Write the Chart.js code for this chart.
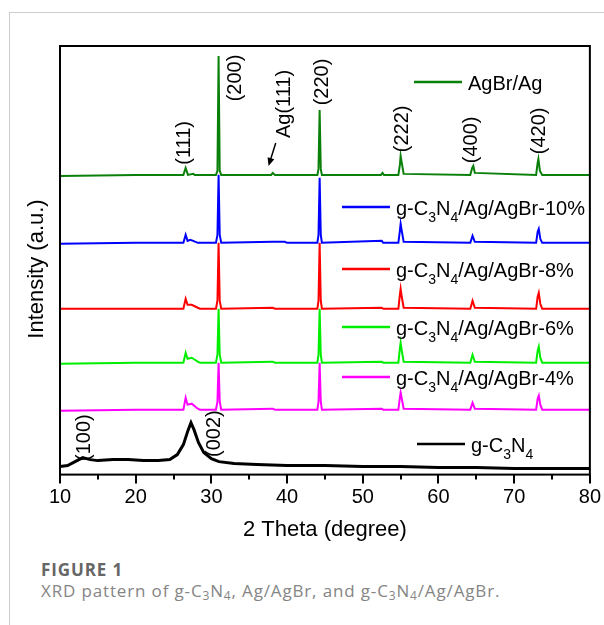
<!DOCTYPE html>
<html>
<head>
<meta charset="utf-8">
<script src="https://cdn.jsdelivr.net/npm/chart.js@4.4.0/dist/chart.umd.min.js"></script>
<style>
    body { margin: 0; background: #fff; }
    .card { position: absolute; left: 9px; top: 12px; width: 600px; height: 620px; border-left: 1px solid #cdcdcd; border-top: 1px solid #cdcdcd; }
    #xrd { position: absolute; left: 0; top: 0; }
    .fig-title { position: absolute; left: 41px; top: 558px; font: bold 17px "Open Sans", sans-serif; letter-spacing: 0.9px; color: #666; }
    .fig-text { position: absolute; left: 41px; top: 579px; font: 17px "Open Sans", sans-serif; letter-spacing: 0.85px; color: #858585; }
    .fig-text sub { font-size: 12px; vertical-align: -3px; line-height: 0; }
</style>
</head>
<body>
<div class="card"></div>
<canvas id="xrd" width="604" height="548"></canvas>
<div class="fig-title">FIGURE 1</div>
<div class="fig-text">XRD pattern of g-C<sub>3</sub>N<sub>4</sub>, Ag/AgBr, and g-C<sub>3</sub>N<sub>4</sub>/Ag/AgBr.</div>
<script>
// 2θ in degrees, intensity in a.u. (stacked traces)
const seriesNames = ["AgBr/Ag", "g-C3N4/Ag/AgBr-10%", "g-C3N4/Ag/AgBr-8%", "g-C3N4/Ag/AgBr-6%", "g-C3N4/Ag/AgBr-4%", "g-C3N4"];
const seriesColors = ["#0a800a", "#0000ff", "#ff0000", "#00ee00", "#ff00ff", "#000000"];

const agbrAg = [[10,299],[20,300],[26.3,300],[26.6,307],[26.9,300],[27.6,301],[27.8,300],[30.6,300],[30.8,304],[30.95,419],[31.1,304],[31.3,300],[37.9,300],[38.1,302],[38.4,300],[44.0,300],[44.15,306],[44.3,365],[44.45,306],[44.6,300],[52.4,300],[52.6,302],[52.8,300],[54.7,300],[54.9,310],[55.0,319],[55.15,312],[55.4,301],[64.2,300],[64.45,307],[64.6,309],[64.8,302],[72.9,300],[73.1,312],[73.2,316],[73.4,304],[73.7,300],[80,300]];
const cn10 = [[10,231],[20,232],[26.3,232],[26.6,240],[26.85,234],[27.2,235],[27.6,234],[28.2,232],[30.6,232],[30.8,240],[30.95,300],[31.1,240],[31.3,232],[38.1,233],[39.7,233],[40,232],[44.0,232],[44.15,240],[44.3,297],[44.45,240],[44.6,232],[52.5,234],[52.7,232],[54.7,232],[54.9,244],[55.0,251],[55.15,244],[55.4,233],[64.2,232],[64.5,239],[64.8,233],[72.9,232],[73.1,243],[73.25,246],[73.45,236],[73.7,232],[80,232]];
const cn8 = [[10,166],[20,166],[26.3,166],[26.6,176],[26.85,170],[27.4,170],[28.2,167],[28.5,166],[30.6,166],[30.8,174],[30.95,232],[31.1,174],[31.3,166],[38.1,167],[38.4,166],[44.0,166],[44.15,174],[44.3,232],[44.45,174],[44.6,166],[52.5,167],[52.7,166],[54.7,166],[54.9,180],[55.0,186],[55.15,178],[55.4,167],[64.2,166],[64.5,174],[64.8,167],[72.9,166],[73.1,178],[73.25,182],[73.45,171],[73.7,166],[80,166]];
const cn6 = [[10,111],[20,112],[26.3,112],[26.6,122],[26.85,116],[27.4,117],[28.2,113],[28.5,112],[30.6,112],[30.8,120],[30.95,166],[31.1,120],[31.3,112],[38.1,113],[38.4,112],[44.0,112],[44.15,120],[44.3,166],[44.45,120],[44.6,112],[52.5,113],[52.7,112],[54.7,112],[54.9,126],[55.0,132],[55.15,124],[55.4,113],[64.2,112],[64.5,120],[64.8,113],[72.9,112],[73.1,124],[73.25,128],[73.45,117],[73.7,112],[80,112]];
const cn4 = [[10,64],[20,65],[26.3,65],[26.6,77],[26.85,70],[27.4,71],[28.2,66],[28.5,65],[30.6,65],[30.8,73],[30.95,112],[31.1,73],[31.3,65],[38.1,66],[38.4,65],[44.0,65],[44.15,73],[44.3,112],[44.45,73],[44.6,65],[52.5,66],[52.7,65],[54.7,65],[54.9,77],[55.0,82],[55.15,76],[55.4,66],[64.2,65],[64.5,72],[64.8,66],[72.9,65],[73.1,76],[73.25,79],[73.45,70],[73.7,65],[80,65]];
const gcn = [[10,8],[11,9],[12,13],[13,17],[14,15],[15,14],[17,15],[19,15],[21,14],[23,14],[24.5,15],[25.5,20],[26.3,30],[26.9,44],[27.3,52],[27.7,45],[28.3,32],[29,22],[30,16],[31,13],[33,11],[36,10],[40,9],[45,9],[50,8],[55,8],[60,7],[65,7],[70,6],[75,6],[80,6]];

const xTicks = [10, 15, 20, 25, 30, 35, 40, 45, 50, 55, 60, 65, 70, 75, 80];

// peak labels: [2θ, intensity at label centre, text]
const peakLabels = [[26.5, 332, "(111)"], [33.2, 397, "(200)"], [39.7, 371, "Ag(111)"], [44.7, 393, "(220)"], [55.2, 346, "(222)"], [64.4, 335, "(400)"], [73.4, 344, "(420)"], [13.3, 37, "(100)"], [30.4, 41, "(002)"]];

const FONT = '"Liberation Sans", Arial, sans-serif';

const drawLabel = (ctx, text, x, y, size) => {
    // digits after C / N are subscripts
    const parts = text.split(/(?<=[CN])(\d)/);
    ctx.textBaseline = "middle";
    ctx.textAlign = "left";
    parts.forEach((part, i) => {
        if (!part) return;
        const sub = i % 2 === 1;
        ctx.font = `${sub ? Math.round(size * 0.7) : size}px ${FONT}`;
        ctx.fillText(part, x, sub ? y + 9 : y);
        x += ctx.measureText(part).width;
    });
};

const decorations = {
    id: "decorations",
    afterDraw(chart) {
        const { ctx, chartArea: a, scales: { x, y } } = chart;
        ctx.save();
        ctx.strokeStyle = "#000";
        ctx.fillStyle = "#000";
        ctx.lineWidth = 2;
        ctx.strokeRect(a.left, a.top, a.right - a.left, a.bottom - a.top);

        x.ticks.forEach((t) => {
            const px = Math.round(x.getPixelForValue(t.value));
            ctx.beginPath();
            ctx.moveTo(px, a.bottom);
            ctx.lineTo(px, a.bottom + (t.value % 10 === 0 ? 9 : 5));
            ctx.stroke();
        });

        // y title
        ctx.save();
        ctx.translate(37, 269);
        ctx.rotate(-Math.PI / 2);
        ctx.font = `22px ${FONT}`;
        ctx.textAlign = "center";
        ctx.textBaseline = "middle";
        ctx.fillText("Intensity (a.u.)", 0, 0);
        ctx.restore();

        // peak indices
        ctx.font = `20px ${FONT}`;
        peakLabels.forEach(([deg, val, text]) => {
            ctx.save();
            ctx.translate(x.getPixelForValue(deg), y.getPixelForValue(val));
            ctx.rotate(-Math.PI / 2);
            ctx.textAlign = "center";
            ctx.textBaseline = "middle";
            ctx.fillText(text, 0, 0);
            ctx.restore();
        });

        // Ag(111) arrow
        const x1 = x.getPixelForValue(38.5), y1 = y.getPixelForValue(332);
        const x2 = x.getPixelForValue(37.55), y2 = y.getPixelForValue(309);
        const ang = Math.atan2(y2 - y1, x2 - x1);
        ctx.lineWidth = 1.5;
        ctx.beginPath();
        ctx.moveTo(x1, y1);
        ctx.lineTo(x2 - 5 * Math.cos(ang), y2 - 5 * Math.sin(ang));
        ctx.stroke();
        ctx.beginPath();
        ctx.moveTo(x2, y2);
        ctx.lineTo(x2 - 8 * Math.cos(ang) + 3.5 * Math.sin(ang), y2 - 8 * Math.sin(ang) - 3.5 * Math.cos(ang));
        ctx.lineTo(x2 - 8 * Math.cos(ang) - 3.5 * Math.sin(ang), y2 - 8 * Math.sin(ang) + 3.5 * Math.cos(ang));
        ctx.closePath();
        ctx.fill();

        // legend
        const legendPos = [[414, 462, 82], [342, 390, 207], [342, 390, 269], [342, 390, 327], [342, 390, 377], [417, 465, 444]];
        legendPos.forEach(([lx1, lx2, ly], i) => {
            ctx.strokeStyle = seriesColors[i];
            ctx.lineWidth = 2.5;
            ctx.beginPath();
            ctx.moveTo(lx1, ly);
            ctx.lineTo(lx2, ly);
            ctx.stroke();
            ctx.fillStyle = "#000";
            drawLabel(ctx, seriesNames[i], lx2 + 6, ly + 2, 20);
        });
        ctx.restore();
    }
};

const allSeries = [agbrAg, cn10, cn8, cn6, cn4, gcn];

new Chart(document.querySelector("#xrd"), {
    type: "line",
    data: {
        datasets: allSeries.map((pts, i) => ({
            label: seriesNames[i],
            data: pts.map(([deg, val]) => ({ x: deg, y: val })),
            borderColor: seriesColors[i],
            borderWidth: i === 5 ? 3 : 2,
            pointRadius: 0,
            tension: 0,
            fill: false
        }))
    },
    options: {
        responsive: false,
        devicePixelRatio: 1,
        animation: false,
        layout: { padding: { left: 60, right: 13, top: 46, bottom: 1 } },
        plugins: { legend: { display: false }, tooltip: { enabled: false } },
        scales: {
            x: {
                type: "linear",
                min: 10,
                max: 80,
                afterBuildTicks: (scale) => { scale.ticks = xTicks.map((v) => ({ value: v })); },
                grid: { display: true, drawOnChartArea: false, drawTicks: true, tickLength: 8, tickColor: "transparent" },
                border: { display: false },
                ticks: {
                    autoSkip: false,
                    maxRotation: 0,
                    padding: 3,
                    color: "#000",
                    font: { family: FONT, size: 20 },
                    callback: (v) => (v % 10 === 0 ? v : "")
                },
                title: {
                    display: true,
                    text: "2 Theta (degree)",
                    color: "#000",
                    font: { family: FONT, size: 22 },
                    padding: { top: 4, bottom: 4 }
                }
            },
            y: { display: false, min: 0, max: 429 }
        }
    },
    plugins: [decorations]
});
</script>
</body>
</html>
